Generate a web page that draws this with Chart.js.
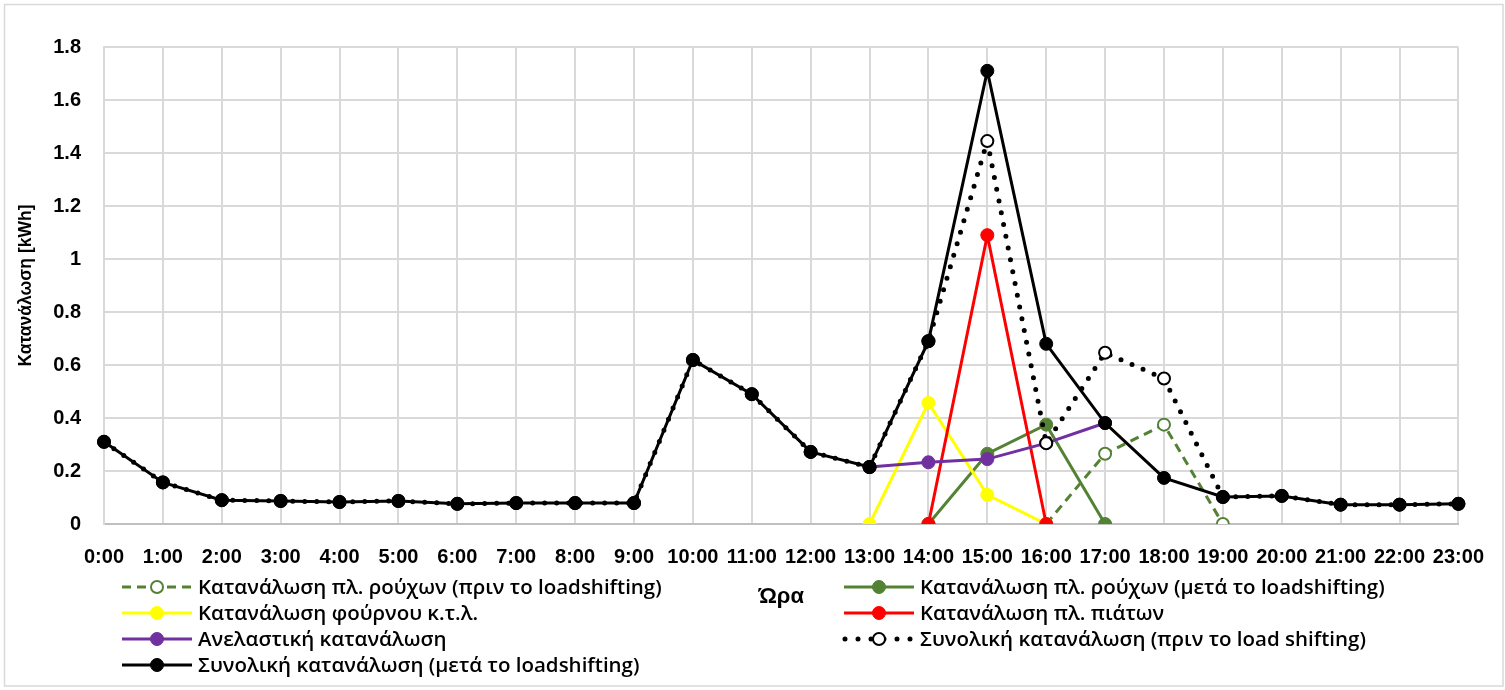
<!DOCTYPE html>
<html>
<head>
<meta charset="utf-8">
<script src="https://cdn.jsdelivr.net/npm/chart.js@4.4.1/dist/chart.umd.min.js"></script>
<style>
  body { margin: 0; background: #fff; }
  canvas { display: block; }
</style>
</head>
<body>
<canvas id="loadChart" width="1505" height="690"></canvas>
<script>
const hours = ['0:00','1:00','2:00','3:00','4:00','5:00','6:00','7:00','8:00','9:00','10:00','11:00',
               '12:00','13:00','14:00','15:00','16:00','17:00','18:00','19:00','20:00','21:00','22:00','23:00'];

const washerBefore = [null,null,null,null,null,null,null,null,null,null,null,null,
                      null,null,null,null,0,0.265,0.375,0,null,null,null,null];
const washerAfter = [null,null,null,null,null,null,null,null,null,null,null,null,
                     null,null,0,0.265,0.375,0,null,null,null,null,null,null];
const oven = [null,null,null,null,null,null,null,null,null,null,null,null,
              null,0,0.457,0.11,0,null,null,null,null,null,null,null];
const dishwasher = [null,null,null,null,null,null,null,null,null,null,null,null,
                    null,null,0,1.09,0,null,null,null,null,null,null,null];
const inelastic = [null,null,null,null,null,null,null,null,null,null,null,null,
                   null,0.215,0.233,0.245,0.305,0.381,null,null,null,null,null,null];
const totalBefore = [0.31,0.157,0.09,0.087,0.083,0.087,0.076,0.079,0.079,0.079,0.619,0.49,
                     0.272,0.215,0.69,1.445,0.305,0.646,0.549,0.102,0.106,0.073,0.073,0.076];
const totalAfter = [0.31,0.157,0.09,0.087,0.083,0.087,0.076,0.079,0.079,0.079,0.619,0.49,
                    0.272,0.215,0.69,1.71,0.68,0.381,0.174,0.102,0.106,0.073,0.073,0.076];

const seriesLabels = [
    'Κατανάλωση πλ. ρούχων (πριν το loadshifting)',
    'Κατανάλωση πλ. ρούχων (μετά το loadshifting)',
    'Κατανάλωση φούρνου κ.τ.λ.',
    'Κατανάλωση πλ. πιάτων',
    'Ανελαστική κατανάλωση',
    'Συνολική κατανάλωση (πριν το load shifting)',
    'Συνολική κατανάλωση (μετά το loadshifting)'
];

const GREEN = '#548235', YELLOW = '#ffff00', RED = '#ff0000', PURPLE = '#7030a0';
const FONT = "'Liberation Sans', Arial, sans-serif";
const LEGEND_FONT = "600 20.5px 'Open Sans', 'Liberation Sans', sans-serif";

function solid(label, data, color, order) {
    return {
        label: label, data: data, order: order,
        borderColor: color, backgroundColor: color,
        borderWidth: 3, pointRadius: 6.5, pointHoverRadius: 6.5,
        pointBackgroundColor: color, pointBorderColor: color, pointBorderWidth: 1,
        tension: 0, spanGaps: false
    };
}

const datasets = [
    Object.assign(solid(seriesLabels[0], washerBefore, GREEN, 6), {
        borderDash: [9, 6], pointBackgroundColor: '#fff', pointRadius: 6, pointBorderWidth: 2
    }),
    solid(seriesLabels[1], washerAfter, GREEN, 5),
    solid(seriesLabels[2], oven, YELLOW, 4),
    solid(seriesLabels[3], dishwasher, RED, 3),
    solid(seriesLabels[4], inelastic, PURPLE, 2),
    Object.assign(solid(seriesLabels[5], totalBefore, '#000', 1), {
        borderWidth: 5, borderDash: [0, 12], borderCapStyle: 'round',
        pointBackgroundColor: '#fff', pointRadius: 6, pointBorderWidth: 2
    }),
    solid(seriesLabels[6], totalAfter, '#000', 0)
];

// legend laid out in two columns like the original
const legendSlots = [
    {ds: 0, x: 122, y: 587}, {ds: 1, x: 844, y: 587},
    {ds: 2, x: 122, y: 613}, {ds: 3, x: 844, y: 613},
    {ds: 4, x: 122, y: 639}, {ds: 5, x: 844, y: 639},
    {ds: 6, x: 122, y: 665}
];

const frameAndLegend = {
    id: 'frameAndLegend',
    beforeDraw(chart) {
        const c = chart.ctx;
        c.save();
        c.fillStyle = '#fff';
        c.fillRect(0, 0, chart.width, chart.height);
        c.strokeStyle = '#d9d9d9';
        c.lineWidth = 1.5;
        c.strokeRect(4.5, 4.5, 1498.5, 681.5);
        c.restore();
    },
    afterDraw(chart) {
        const c = chart.ctx;
        c.save();
        legendSlots.forEach(s => {
            const d = chart.data.datasets[s.ds];
            const w = 70, cx = s.x + w / 2;
            c.strokeStyle = d.borderColor;
            c.lineWidth = d.borderWidth;
            c.lineCap = d.borderCapStyle || 'butt';
            c.setLineDash(d.borderDash || []);
            c.beginPath();
            if (s.ds === 5) {
                c.moveTo(s.x + 1, s.y); c.lineTo(s.x + w, s.y);
                c.setLineDash([0, 13]);
            } else {
                c.moveTo(s.x, s.y); c.lineTo(s.x + w, s.y);
            }
            c.stroke();
            c.setLineDash([]);
            c.beginPath();
            c.arc(cx, s.y, d.pointRadius, 0, Math.PI * 2);
            c.fillStyle = d.pointBackgroundColor;
            c.fill();
            c.lineWidth = d.pointBorderWidth;
            c.strokeStyle = d.pointBorderColor;
            c.stroke();
            c.fillStyle = '#000';
            c.font = LEGEND_FONT;
            c.textBaseline = 'middle';
            c.textAlign = 'left';
            c.fillText(d.label, s.x + w + 6, s.y + 1);
        });
        c.restore();
    }
};

new Chart(document.getElementById('loadChart'), {
    type: 'line',
    data: {labels: hours, datasets: datasets},
    options: {
        responsive: false,
        animation: false,
        devicePixelRatio: 1,
        layout: {padding: {left: 0, right: 46, top: 47, bottom: 0}},
        plugins: {legend: {display: false}, tooltip: {enabled: false}},
        scales: {
            x: {
                offset: false,
                grid: {color: '#d9d9d9', lineWidth: 2, drawTicks: false},
                border: {color: '#bfbfbf', width: 2},
                ticks: {color: '#000', padding: 21, maxRotation: 0, autoSkip: false,
                        font: {family: FONT, size: 20, weight: 'bold'}},
                title: {display: true, text: 'Ώρα', color: '#000',
                        font: {family: FONT, size: 22, weight: 'bold'}, padding: {top: 80, bottom: 80}},
                afterFit(scale) { scale.height = 166; }
            },
            y: {
                min: 0, max: 1.8,
                grid: {color: '#d9d9d9', lineWidth: 2, drawTicks: false},
                border: {color: '#d9d9d9', width: 2},
                ticks: {stepSize: 0.2, color: '#000', padding: 23,
                        font: {family: FONT, size: 20, weight: 'bold'},
                        callback: v => Math.round(v * 10) / 10},
                title: {display: true, text: 'Κατανάλωση [kWh]', color: '#000',
                        font: {family: FONT, size: 17.5, weight: 'bold'}, padding: {top: 16, bottom: 16}},
                afterFit(scale) { scale.width = 104; }
            }
        }
    },
    plugins: [frameAndLegend]
});
</script>
</body>
</html>
